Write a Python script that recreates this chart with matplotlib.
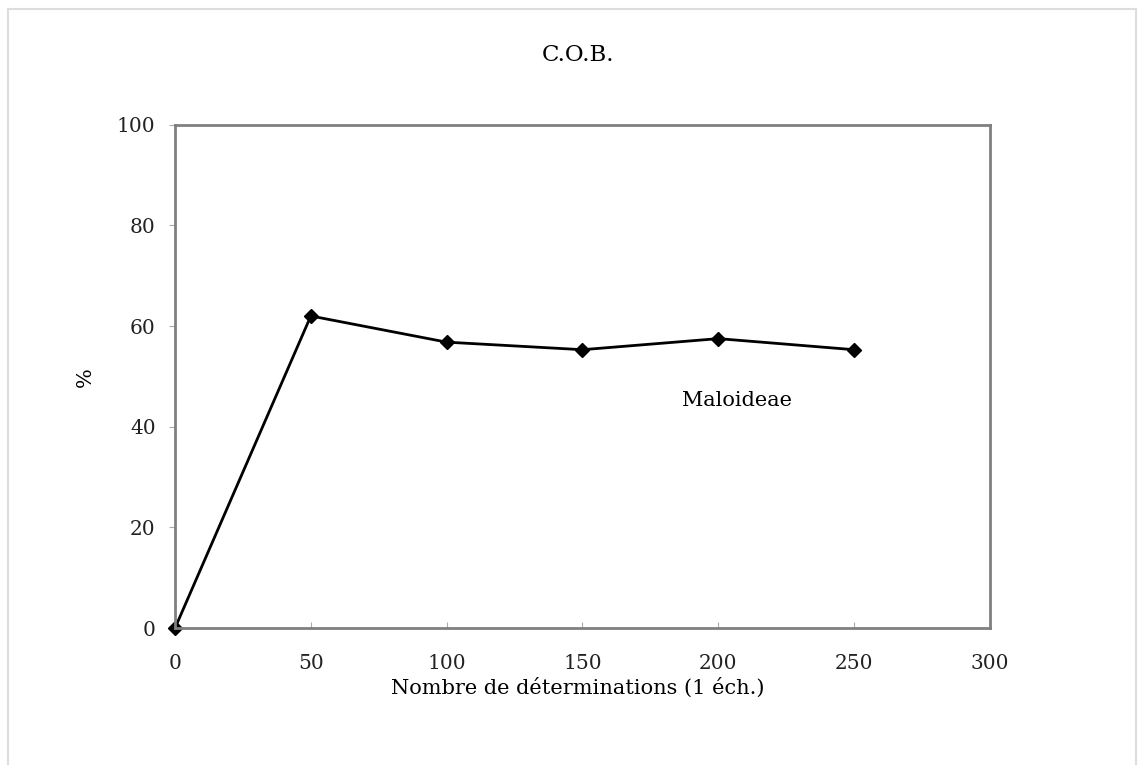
import matplotlib.pyplot as plt
from matplotlib.patches import Rectangle

# Data
n_values = [0, 50, 100, 150, 200, 250]
pct_values = [0, 62.0, 56.8, 55.3, 57.5, 55.3]

plt.rcParams['font.family'] = ['DejaVu Serif']

fig = plt.figure(figsize=(11.38, 7.65), dpi=100)
ax = fig.add_axes([0.1538, 0.179, 0.716, 0.658])

ax.plot(n_values, pct_values, color='black', linewidth=2, marker='D', markersize=7.5)

ax.set_xlim(0, 300)
ax.set_ylim(0, 100)
ax.set_xticks(range(0, 301, 50))
ax.set_yticks(range(0, 101, 20))
ax.tick_params(axis='both', labelsize=14.5, colors='#222222')
ax.tick_params(axis='x', direction='in', length=4, color='#aaaaaa', pad=19)
ax.tick_params(axis='y', direction='out', length=4, color='#aaaaaa', pad=10)
for s in ax.spines.values():
    s.set_color('#808080')
    s.set_linewidth(2)

for line in ax.lines:
    line.set_clip_on(False)

fig.text(0.508, 0.928, "C.O.B.", ha='center', va='center', fontsize=16.5)
fig.text(0.508, 0.101, "Nombre de déterminations (1 éch.)", ha='center', va='center', fontsize=15)
fig.text(0.075, 0.507, "%", ha='center', va='center', rotation=90, fontsize=15)
ax.text(186.5, 45.3, "Maloideae", ha='left', va='center', fontsize=15)

# thin gray frame around the figure
fig.patches.append(Rectangle((0.007, -0.01), 0.991, 0.998, transform=fig.transFigure,
                             fill=False, edgecolor='#dddddd', linewidth=1.5))

fig.savefig("out.png", dpi=100)
